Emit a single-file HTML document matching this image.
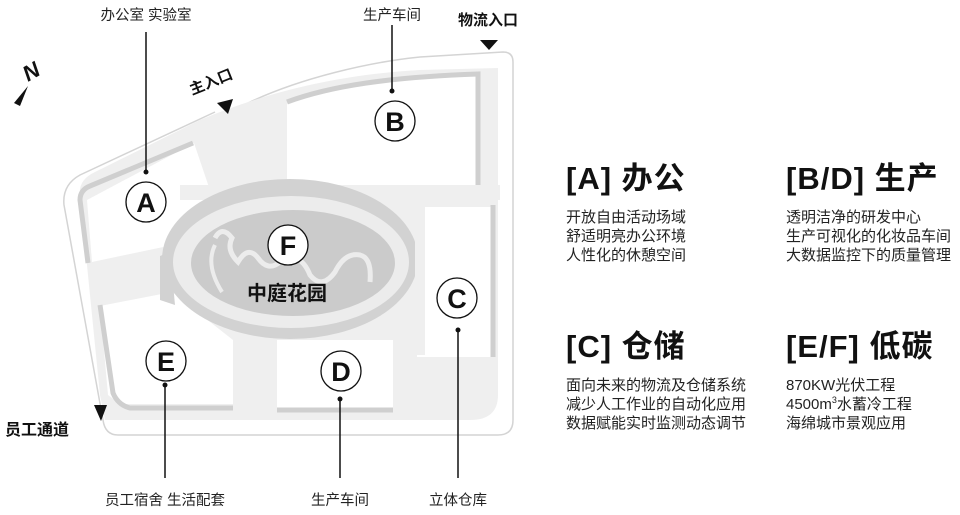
<!DOCTYPE html>
<html><head><meta charset="utf-8"><style>
html,body{margin:0;padding:0;background:#fff;}
body{width:960px;height:515px;overflow:hidden;position:relative;font-family:"Liberation Sans","Noto Sans CJK SC",sans-serif;}
.h{position:absolute;font-weight:bold;font-size:31px;color:#111;letter-spacing:1px;line-height:1;}
.b{position:absolute;font-size:15px;color:#222;line-height:19px;}
</style></head><body>
<svg width="960" height="515" viewBox="0 0 960 515" style="position:absolute;left:0;top:0" font-family="Liberation Sans, Noto Sans CJK SC, sans-serif">
<path d="M248,103 C300,78 370,62 420,57 L503,52 Q513,52 513,62 L513,420 Q513,435 498,435 L118,435 Q105,435 103,420 L64,205 Q62,185 80,175 L215,112" fill="none" stroke="#d4d4d4" stroke-width="1.5"/>
<path d="M80,195 Q78,180 95,172 L200,120 C260,95 330,75 420,70 L498,68 L498,395 Q498,420 470,420 L105,420 L100,395 Z" fill="#efefef"/>
<path d="M87,200 L194,143 L216,208 L168,246 L92,262 Z" fill="#fff"/>
<path d="M100,306 L172,292 L233,340 L233,404 L120,404 L108,395 Z" fill="#fff"/>
<path d="M287,102 C330,85 390,75 478,72 L478,185 L287,185 Z" fill="#fff"/>
<rect x="417" y="207" width="76" height="150" fill="#fff"/>
<rect x="277" y="340" width="116" height="70" fill="#fff"/>
<path d="M88,263 L80,200 Q80,190 90,186 L193,143" fill="none" stroke="#cfcfcf" stroke-width="5"/>
<path d="M100,305 L113,393 Q118,405 130,408 L233,408" fill="none" stroke="#cfcfcf" stroke-width="5"/>
<path d="M287,102 C330,86 390,77 478,74 L478,185" fill="none" stroke="#cfcfcf" stroke-width="5"/>
<path d="M493,205 L493,357" stroke="#cfcfcf" stroke-width="5"/>
<path d="M277,410 L393,410" stroke="#cfcfcf" stroke-width="5"/>
<rect x="180" y="185" width="320" height="15" fill="#efefef"/>
<path d="M170,252 L160,256 L160,300 L175,305 Z" fill="#d2d2d2"/>
<ellipse cx="290" cy="259" rx="128" ry="80" fill="#d2d2d2"/>
<rect x="415" y="185" width="10" height="170" fill="#efefef"/>
<ellipse cx="291" cy="262" rx="118" ry="66" fill="#ececec"/>
<ellipse cx="293" cy="263" rx="102" ry="53" fill="#cbcbcb"/>
<path d="M215,238 Q222,225 232,238 Q226,250 238,262 Q248,245 258,258 Q268,272 280,262 Q300,250 310,275 Q322,290 335,272 Q345,252 360,255 Q372,258 370,282" fill="none" stroke="#ececec" stroke-width="5"/>
<path d="M215,245 Q205,265 222,292" fill="none" stroke="#ececec" stroke-width="4"/>
<g fill="#fff" stroke="#111" stroke-width="1.3">
<circle cx="146" cy="202" r="20"/><circle cx="395" cy="121" r="20"/><circle cx="288" cy="245" r="20"/>
<circle cx="457" cy="298" r="20"/><circle cx="166" cy="361" r="20"/><circle cx="341" cy="371" r="20"/>
</g>
<g font-size="27" font-weight="bold" text-anchor="middle" fill="#111">
<text x="146" y="212">A</text><text x="395" y="131">B</text><text x="288" y="255">F</text>
<text x="457" y="308">C</text><text x="166" y="371">E</text><text x="341" y="381">D</text>
</g>
<text x="287" y="300" font-size="20" font-weight="bold" text-anchor="middle" fill="#111">中庭花园</text>
<g stroke="#111" stroke-width="1.5">
<line x1="146" y1="32" x2="146" y2="172"/><line x1="392" y1="25" x2="392" y2="91"/>
<line x1="458" y1="330" x2="458" y2="478"/><line x1="165" y1="385" x2="165" y2="478"/>
<line x1="340" y1="399" x2="340" y2="478"/>
</g>
<g fill="#111"><circle cx="146" cy="172" r="2.5"/><circle cx="392" cy="91" r="2.5"/><circle cx="458" cy="330" r="2.5"/><circle cx="165" cy="385" r="2.5"/><circle cx="340" cy="399" r="2.5"/>
<polygon points="480,40 498,40 489,50"/>
<polygon points="217,103 233,99 228,114"/>
<polygon points="94,405 107,405 101,421"/>
<polygon points="28,86 14,103 20,106"/>
</g>
<g font-size="14.5" fill="#222" text-anchor="middle">
<text x="146" y="20">办公室 实验室</text><text x="392" y="20">生产车间</text>
<text x="165" y="505">员工宿舍 生活配套</text><text x="340" y="505">生产车间</text><text x="458" y="505">立体仓库</text>
</g>
<g font-weight="bold" fill="#111">
<text x="458" y="25" font-size="15">物流入口</text>
<text x="5" y="435" font-size="16">员工通道</text>
<text x="0" y="0" font-size="15" transform="translate(192,95) rotate(-22)">主入口</text>
<text x="0" y="0" font-size="22" font-style="italic" transform="translate(28,82) rotate(-30)">N</text>
</g>
</svg>
<div class="h" style="left:566px;top:163px">[A] 办公</div>
<div class="h" style="left:786px;top:163px">[B/D] 生产</div>
<div class="h" style="left:566px;top:331px">[C] 仓储</div>
<div class="h" style="left:786px;top:331px">[E/F] 低碳</div>
<div class="b" style="left:566px;top:208px">开放自由活动场域<br>舒适明亮办公环境<br>人性化的休憩空间</div>
<div class="b" style="left:786px;top:208px">透明洁净的研发中心<br>生产可视化的化妆品车间<br>大数据监控下的质量管理</div>
<div class="b" style="left:566px;top:376px">面向未来的物流及仓储系统<br>减少人工作业的自动化应用<br>数据赋能实时监测动态调节</div>
<div class="b" style="left:786px;top:376px">870KW光伏工程<br>4500m<sup style="font-size:9px;line-height:0">3</sup>水蓄冷工程<br>海绵城市景观应用</div>
</body></html>
